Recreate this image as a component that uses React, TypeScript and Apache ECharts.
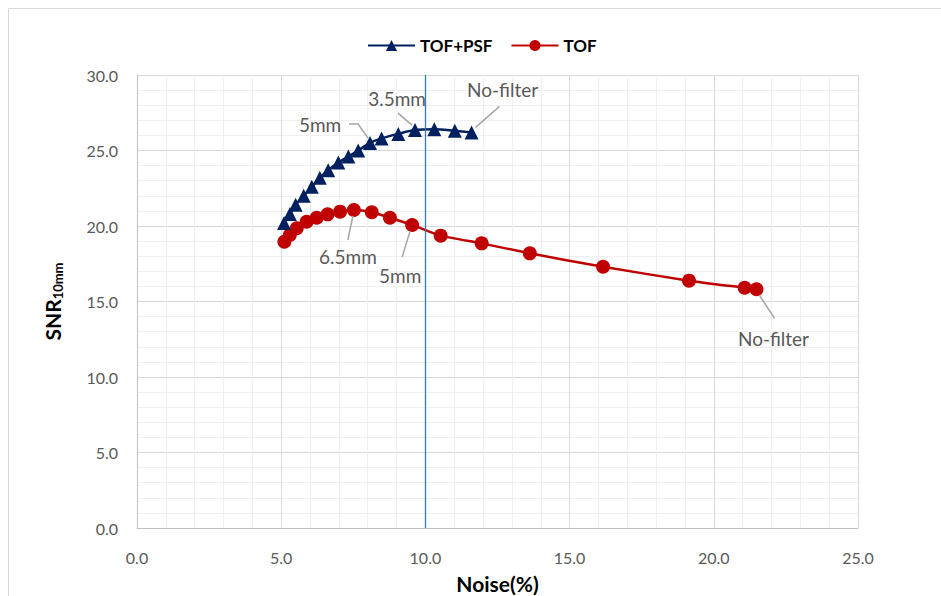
import React, { useEffect, useRef } from "react";
import * as echarts from "echarts";

// TOF+PSF series (Noise %, SNR)
const psfNoise = [5.1, 5.3, 5.5, 5.78, 6.06, 6.34, 6.63, 6.98, 7.33, 7.67, 8.08, 8.48, 9.06, 9.64, 10.31, 11.02, 11.6];
const psfSnr = [20.2, 20.8, 21.4, 22.0, 22.6, 23.2, 23.7, 24.2, 24.6, 25.0, 25.5, 25.8, 26.1, 26.35, 26.4, 26.3, 26.2];

// TOF series (Noise %, SNR)
const tofNoise = [5.11, 5.3, 5.54, 5.88, 6.23, 6.61, 7.04, 7.52, 8.14, 8.77, 9.54, 10.53, 11.95, 13.62, 16.16, 19.14, 21.07, 21.48];
const tofSnr = [18.96, 19.4, 19.85, 20.28, 20.55, 20.77, 20.95, 21.06, 20.91, 20.55, 20.07, 19.36, 18.85, 18.19, 17.3, 16.38, 15.91, 15.81];

const seriesNames = ["TOF+PSF", "TOF"];
const refNoise = 10.0;

// annotation texts and the data point they refer to
const annotationTexts = ["3.5mm", "5mm", "No-filter", "6.5mm", "5mm", "No-filter"];
const annotationSeries = [0, 0, 0, 1, 1, 1];
const annotationIndex = [13, 10, 16, 7, 10, 17];

// layout of annotations relative to their point (pixels)
const annotationLayout = [
  { leader: [[-3, -5], [-17, -17]], text: [-18, -32] },
  { leader: [[-2, -5], [-12, -19], [-21, -19]], text: [-50, -18] },
  { leader: [[4, -5], [28, -26]], text: [31, -43] },
  { leader: [[-1, 6], [-6, 30]], text: [-6, 47] },
  { leader: [[-2, 6], [-10, 32]], text: [-12, 51] },
  { leader: [[3, 6], [18, 29]], text: [17, 49] },
];

const FONT = "Lato, 'Open Sans', sans-serif";

export default function App() {
  const ref = useRef<HTMLDivElement>(null);

  useEffect(() => {
    if (!ref.current) return;
    const chart = echarts.init(ref.current, undefined, { renderer: "svg" });
    const psfData = psfNoise.map((x, i) => [x, psfSnr[i]]);
    const tofData = tofNoise.map((x, i) => [x, tofSnr[i]]);

    chart.setOption({
      animation: false,
      backgroundColor: "#ffffff",
      textStyle: { fontFamily: FONT },
      grid: { left: 137, right: 83, top: 75, bottom: 68, outerBoundsMode: "none", containLabel: false },
      legend: {
        left: 362,
        top: 32,
        itemWidth: 47,
        itemHeight: 14,
        itemGap: 18,
        textStyle: { fontSize: 17, fontWeight: "bold", color: "#000000", fontFamily: FONT },
        data: seriesNames,
      },
      xAxis: {
        type: "value",
        min: 0,
        max: 25,
        interval: 5,
        minorTick: { show: false, splitNumber: 5 },
        minorSplitLine: { show: true, lineStyle: { color: "#f0f0f0", width: 1 } },
        splitLine: { show: true, lineStyle: { color: "#d9d9d9", width: 1 } },
        axisLine: { show: true, lineStyle: { color: "#bfbfbf", width: 1 } },
        axisTick: { show: false },
        axisLabel: {
          fontSize: 16,
          color: "#595959",
          margin: 21,
          formatter: (v: number) => v.toFixed(1),
        },
        name: "Noise(%)",
        nameLocation: "middle",
        nameGap: 45,
        nameTextStyle: { fontSize: 21, fontWeight: "bold", color: "#000000", fontFamily: FONT },
      },
      yAxis: {
        type: "value",
        min: 0,
        max: 30,
        interval: 5,
        minorTick: { show: false, splitNumber: 5 },
        minorSplitLine: { show: true, lineStyle: { color: "#f0f0f0", width: 1 } },
        splitLine: { show: true, lineStyle: { color: "#d9d9d9", width: 1 } },
        axisLine: { show: true, lineStyle: { color: "#bfbfbf", width: 1 } },
        axisTick: { show: false },
        axisLabel: {
          fontSize: 16,
          color: "#595959",
          margin: 19,
          formatter: (v: number) => v.toFixed(1),
        },
        name: "{a|SNR}{b|10mm}",
        nameLocation: "middle",
        nameGap: 73,
        nameRotate: 90,
        nameTextStyle: {
          rich: {
            a: { fontSize: 21, fontWeight: "bold", color: "#000000", fontFamily: FONT },
            b: { fontSize: 13, fontWeight: "bold", color: "#000000", fontFamily: FONT, padding: [11, 0, 0, 0] },
          },
        },
      },
      series: [
        {
          name: seriesNames[0],
          type: "line",
          data: psfData,
          smooth: 0.3,
          symbol: "triangle",
          symbolSize: 14,
          z: 3,
          itemStyle: { color: "#002060" },
          lineStyle: { color: "#002060", width: 2.5 },
          markLine: {
            silent: true,
            symbol: ["none", "none"],
            label: { show: false },
            lineStyle: { color: "#2E7DB5", width: 1.3, type: "solid" },
            data: [{ xAxis: refNoise }],
          },
        },
        {
          name: seriesNames[1],
          type: "line",
          data: tofData,
          smooth: 0.2,
          symbol: "circle",
          symbolSize: 14,
          z: 2,
          itemStyle: { color: "#C00000" },
          lineStyle: { color: "#C00000", width: 2.5 },
        },
      ],
    });

    const datasets = [psfData, tofData];
    const graphics: any[] = [
      {
        type: "rect",
        silent: true,
        shape: { x: 8.5, y: 8.5, width: 960, height: 620 },
        style: { fill: "none", stroke: "#d9d9d9", lineWidth: 1 },
        z: 0,
      },
    ];
    annotationTexts.forEach((txt, k) => {
      const pt = datasets[annotationSeries[k]][annotationIndex[k]];
      const p = chart.convertToPixel({ gridIndex: 0 }, pt) as number[];
      const lay = annotationLayout[k];
      graphics.push({
        type: "polyline",
        silent: true,
        z: 10,
        shape: { points: lay.leader.map((o) => [p[0] + o[0], p[1] + o[1]]) },
        style: { stroke: "#a6a6a6", lineWidth: 1.5, fill: "none" },
      });
      graphics.push({
        type: "text",
        silent: true,
        z: 10,
        x: p[0] + lay.text[0],
        y: p[1] + lay.text[1],
        style: {
          text: txt,
          fontSize: 19,
          fontFamily: FONT,
          fill: "#595959",
          align: "center",
          verticalAlign: "middle",
        },
      });
    });
    chart.setOption({ graphic: graphics });

    return () => chart.dispose();
  }, []);

  return (
    <div
      ref={ref}
      style={{ position: "fixed", left: 0, top: 0, width: 941, height: 596 }}
    />
  );
}
